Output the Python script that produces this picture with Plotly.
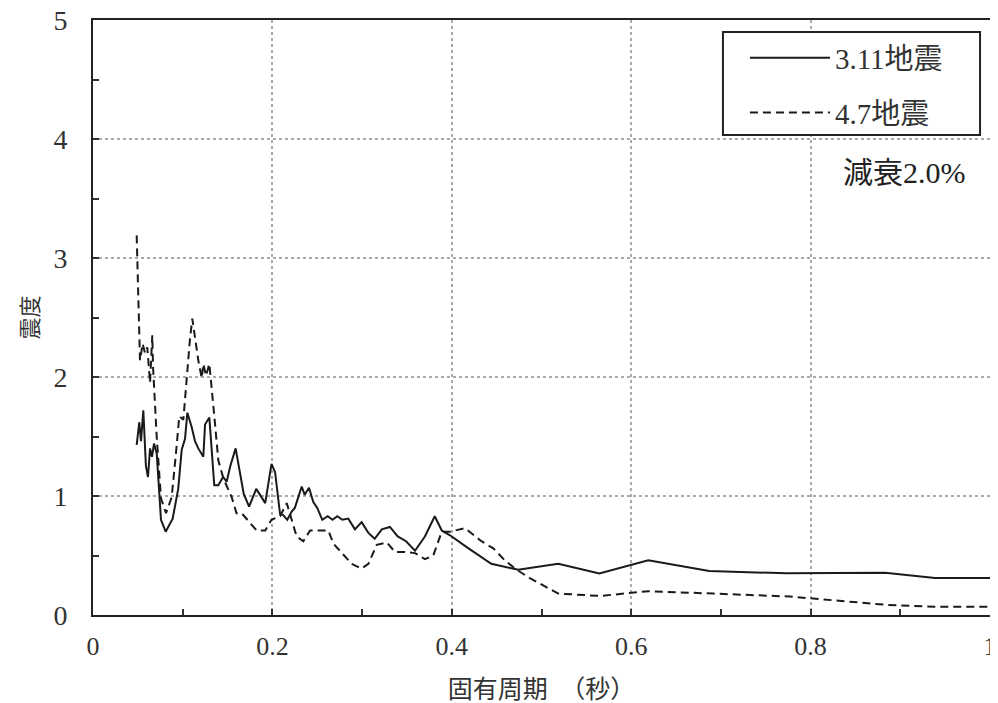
import plotly.graph_objects as go

# ---- data ----
period_311 = [0.0487, 0.0516, 0.0535, 0.0561, 0.059, 0.0613, 0.0636, 0.0658, 0.068, 0.071,
              0.0758, 0.081, 0.0888, 0.095, 0.0989, 0.1026, 0.1052, 0.110, 0.1137, 0.1174,
              0.123, 0.1249, 0.1297, 0.1352, 0.1397, 0.145, 0.149, 0.153, 0.159, 0.168,
              0.174, 0.182, 0.192, 0.199, 0.203, 0.2085, 0.212, 0.2166, 0.2215, 0.225,
              0.2327, 0.236, 0.2408, 0.2456, 0.250, 0.2556, 0.2616, 0.267, 0.2723, 0.2779,
              0.2846, 0.292, 0.2995, 0.307, 0.314, 0.322, 0.331, 0.3397, 0.349, 0.359,
              0.370, 0.381, 0.3888, 0.398, 0.4166, 0.444, 0.474, 0.5187, 0.5645, 0.619,
              0.687, 0.773, 0.883, 0.9387, 1.0]
shindo_311 = [1.43, 1.62, 1.46, 1.72, 1.25, 1.16, 1.40, 1.33, 1.44, 1.36,
              0.80, 0.70, 0.81, 1.06, 1.39, 1.48, 1.70, 1.58, 1.46, 1.40,
              1.33, 1.60, 1.66, 1.09, 1.09, 1.16, 1.12, 1.25, 1.40, 1.02,
              0.91, 1.06, 0.94, 1.27, 1.20, 0.85, 0.84, 0.80, 0.87, 0.90,
              1.08, 1.01, 1.07, 0.95, 0.90, 0.80, 0.83, 0.80, 0.83, 0.80,
              0.81, 0.72, 0.78, 0.69, 0.64, 0.72, 0.74, 0.66, 0.62, 0.54,
              0.66, 0.83, 0.71, 0.67, 0.57, 0.43, 0.38, 0.43, 0.35, 0.46,
              0.37, 0.35, 0.355, 0.31, 0.31]

period_47 = [0.0487, 0.0524, 0.0553, 0.058, 0.0605, 0.0636, 0.0661, 0.0669, 0.071, 0.0758,
             0.0814, 0.0877, 0.0925, 0.0962, 0.1007, 0.1044, 0.108, 0.1107, 0.1137, 0.1174,
             0.1212, 0.123, 0.126, 0.1297, 0.135, 0.1397, 0.1453, 0.1546, 0.160, 0.1658,
             0.1825, 0.192, 0.199, 0.2085, 0.216, 0.2233, 0.227, 0.2345, 0.242, 0.253,
             0.2623, 0.268, 0.2773, 0.2884, 0.2995, 0.307, 0.3163, 0.3274, 0.3367, 0.3478,
             0.359, 0.370, 0.3794, 0.3888, 0.398, 0.4147, 0.433, 0.4463, 0.459, 0.4723,
             0.487, 0.5187, 0.5652, 0.619, 0.6916, 0.777, 0.885, 0.9387, 1.0]
shindo_47 = [3.19, 2.14, 2.28, 2.20, 2.25, 1.95, 2.35, 2.09, 1.50, 0.98,
             0.855, 0.99, 1.36, 1.67, 1.64, 2.00, 2.31, 2.49, 2.33, 2.14,
             1.99, 2.11, 2.01, 2.11, 1.69, 1.30, 1.15, 0.99, 0.855, 0.855,
             0.71, 0.71, 0.80, 0.83, 0.94, 0.74, 0.66, 0.62, 0.71, 0.71,
             0.71, 0.60, 0.52, 0.43, 0.39, 0.43, 0.59, 0.61, 0.53, 0.53,
             0.52, 0.47, 0.50, 0.70, 0.70, 0.73, 0.62, 0.56, 0.46, 0.38,
             0.31, 0.18, 0.16, 0.20, 0.18, 0.155, 0.085, 0.07, 0.07]

x_ticks = [0, 0.2, 0.4, 0.6, 0.8, 1]
x_ticklabels = ["0", "0.2", "0.4", "0.6", "0.8", "1"]
y_ticks = [0, 1, 2, 3, 4, 5]
y_ticklabels = ["0", "1", "2", "3", "4", "5"]

FONT = "Liberation Serif, Noto Sans CJK JP, serif"
TXT = "#333333"

fig = go.Figure()
fig.add_trace(go.Scatter(x=period_311, y=shindo_311, mode="lines", name="3.11地震",
                         legendgroup="a",
                         line=dict(color="#1a1a1a", width=2)))
fig.add_trace(go.Scatter(x=period_47, y=shindo_47, mode="lines", name="4.7地震",
                         legendgroup="b",
                         line=dict(color="#1a1a1a", width=2, dash="8px,5px")))

# page body has an 8px default margin, so the figure is offset by (8, 8)
fig.update_layout(
    width=990, height=695,
    margin=dict(l=85, r=8, t=12, b=88),
    paper_bgcolor="white", plot_bgcolor="white",
    font=dict(family=FONT, size=26, color=TXT),
    showlegend=True,
    legend=dict(x=0.7268, y=0.979, xanchor="left", yanchor="top",
                borderwidth=0, bgcolor="rgba(0,0,0,0)",
                itemwidth=80, tracegroupgap=14, traceorder="grouped",
                font=dict(family=FONT, size=29, color=TXT)),
    xaxis=dict(range=[0, 1], tickvals=x_ticks, ticktext=x_ticklabels,
               automargin=False, ticklabeloverflow="allow",
               showgrid=True, gridcolor="#aaaaaa", griddash="dot", gridwidth=1.5,
               ticks="inside", ticklen=6, tickcolor="#333333", tickwidth=1.5,
               minor=dict(dtick=0.1, tick0=0, ticks="inside", ticklen=6,
                          tickcolor="#333333", tickwidth=1.5, showgrid=False),
               showline=True, linecolor="#222222", linewidth=2, mirror=True,
               zeroline=False, ticklabelstandoff=7,
               tickfont=dict(size=26, color=TXT),
               title=dict(text="固有周期　（秒）", standoff=22,
                          font=dict(size=25, color=TXT))),
    yaxis=dict(range=[0, 5], tickvals=y_ticks, ticktext=y_ticklabels,
               automargin=False, ticklabeloverflow="allow",
               showgrid=True, gridcolor="#aaaaaa", griddash="dot", gridwidth=1.5,
               ticks="inside", ticklen=6, tickcolor="#333333", tickwidth=1.5,
               minor=dict(dtick=0.5, tick0=0, ticks="inside", ticklen=6,
                          tickcolor="#333333", tickwidth=1.5, showgrid=False),
               showline=True, linecolor="#222222", linewidth=2, mirror=True,
               zeroline=False, ticklabelstandoff=18,
               tickfont=dict(size=28, color=TXT),
               title=dict(text="震度", standoff=9,
                          font=dict(size=22, color=TXT))),
)

# legend frame
fig.add_shape(type="rect", xref="paper", yref="paper",
              x0=0.7023, x1=0.9889, y0=0.8067, y1=0.9798,
              line=dict(color="#222222", width=2), fillcolor="white", layer="above")

fig.add_annotation(text="減衰2.0%", xref="paper", yref="paper",
                   x=0.975, y=0.7445, xanchor="right", yanchor="middle",
                   showarrow=False, font=dict(family=FONT, size=30, color="#222222"))

fig.write_html("out.html")
